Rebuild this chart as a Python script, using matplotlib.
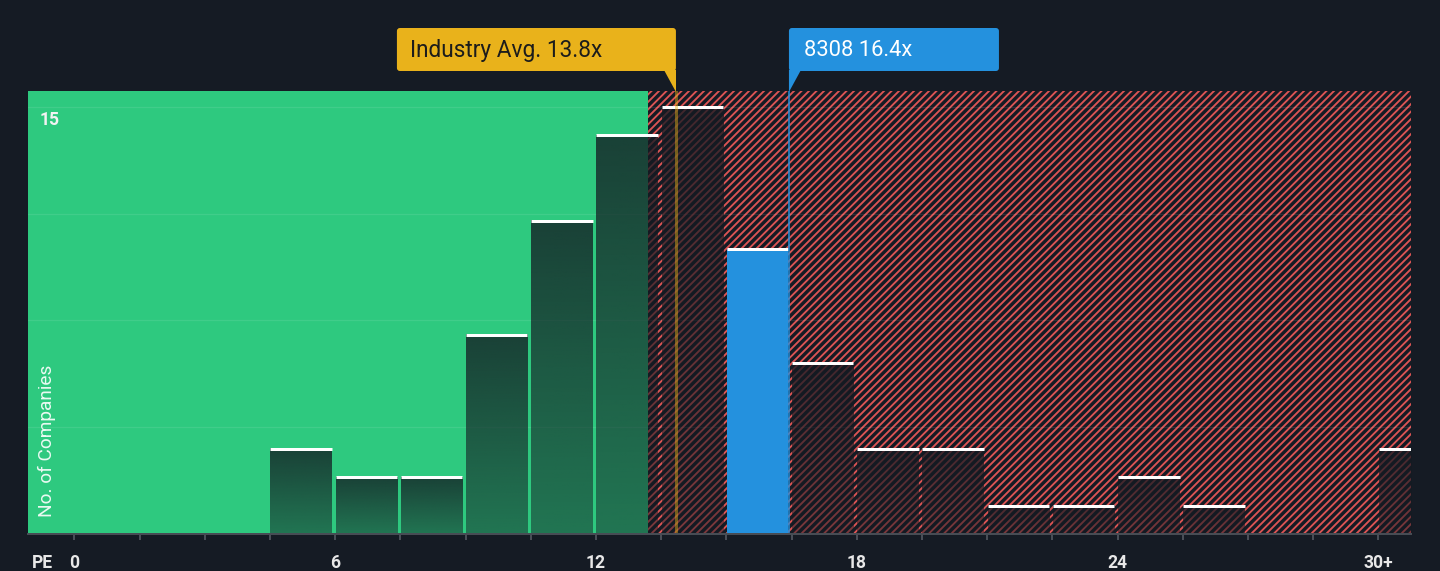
import numpy as np
import matplotlib
matplotlib.use("Agg")
import matplotlib.pyplot as plt
import matplotlib.colors as mcolors
import matplotlib.transforms as mtransforms
from matplotlib.patches import FancyBboxPatch, Polygon

# ---------------- data ----------------
bin_left = [4.5, 6.0, 7.5, 9.0, 10.5, 12.0, 13.5, 15.0, 16.5, 18.0, 19.5,
            21.0, 22.5, 24.0, 25.5, 27.0, 28.5, 30.0]
counts = [3, 2, 2, 7, 11, 14, 15, 10, 6, 3, 3, 1, 1, 2, 1, 0, 0, 3]
bin_width = 1.5
company_bin = 7
industry_avg = 13.84
company_pe = 16.44
company_name = "8308"
fair_limit = 13.2
x_tick_values = [0, 6, 12, 18, 24, 30]
x_tick_labels = ["0", "6", "12", "18", "24", "30+"]
minor_tick_values = list(np.arange(0, 30.1, 1.5))
grid_values = [3.75, 7.5, 11.25, 15]
y_top_label = "15"

# ---------------- style ----------------
W, H, DPI = 1440, 571, 90
BG = "#151b24"
GREEN = "#2ec97f"
RED = "#dc5454"
BLUE = "#2491de"
YELLOW = "#e9b21b"
OVERLAY = "#141a22"
XMIN, XMAX = -1.065, 30.75
YMAX = 15.55

plt.rcParams["font.family"] = ["Roboto", "DejaVu Sans"]
plt.rcParams["hatch.linewidth"] = 1.5

fig = plt.figure(figsize=(W / DPI, H / DPI), dpi=DPI, facecolor=BG)
ax = fig.add_axes([28 / W, (H - 534) / H, (1411 - 28) / W, (534 - 91) / H])
ax.set_facecolor(BG)

# background zones
ax.axvspan(XMIN, fair_limit, facecolor=GREEN, edgecolor="none", linewidth=0, zorder=0)
ax.axvspan(fair_limit, XMAX, facecolor=BG, edgecolor=RED, hatch="////", linewidth=0, zorder=0)

# grid lines
for g in grid_values:
    ax.axhline(g, color="white", alpha=0.09, lw=1.0, zorder=1)

# bars
ov = mcolors.to_rgb(OVERLAY)
grad = np.zeros((256, 1, 4))
grad[..., 0], grad[..., 1], grad[..., 2] = ov
grad[:, 0, 3] = np.linspace(0.78, 0.48, 256)
inset_l, inset_r = 0.01, 0.075
for i, (x0, c) in enumerate(zip(bin_left, counts)):
    if c <= 0:
        continue
    xa, xb = x0 + inset_l, x0 + bin_width - inset_r
    if i == company_bin:
        ax.bar(xa, c, width=xb - xa, align="edge", color=BLUE, linewidth=0, zorder=3)
    else:
        ax.imshow(grad, extent=[xa, xb, 0, c], origin="upper", aspect="auto",
                  interpolation="bilinear", zorder=3)
    ax.hlines(c, xa, xb, color="white", lw=2.4, zorder=4)

# reference lines
ax.axvline(industry_avg, color=YELLOW, alpha=0.45, lw=2.4, zorder=5)
ax.axvline(company_pe, color=BLUE, lw=1.2, zorder=5)

ax.set_xlim(XMIN, XMAX)
ax.set_ylim(0, YMAX)

# axes styling
for s in ["top", "left", "right"]:
    ax.spines[s].set_visible(False)
ax.spines["bottom"].set_color("#474c54")
ax.spines["bottom"].set_linewidth(1.6)
ax.spines["bottom"].set_zorder(6)
ax.set_yticks([])
ax.set_xticks(minor_tick_values, minor=True)
ax.set_xticks(x_tick_values, x_tick_labels)
ax.tick_params(axis="x", which="both", direction="out", length=5, width=1.2,
               color="#5b6068")
ax.tick_params(axis="x", which="major", labelsize=14, labelcolor="#e8e8e8", pad=11.2)
for lab in ax.get_xticklabels():
    lab.set_fontweight("bold")

# pixel transform (x from left, y from top)
pix = mtransforms.Affine2D().scale(1, -1).translate(0, H)

fig.text(32, 563, "PE", transform=pix, ha="left", va="center", fontsize=14,
         fontweight="bold", color="#e8e8e8")
fig.text(40, 120, y_top_label, transform=pix, ha="left", va="center", fontsize=14,
         fontweight="bold", color="#f2f2f2")
fig.text(47, 517, "No. of Companies", transform=pix, ha="center", va="bottom",
         rotation=90, fontsize=15.2, color="white", alpha=0.9)

# annotation boxes
ind_px = ax.transData.transform((industry_avg, 0))[0]
com_px = ax.transData.transform((company_pe, 0))[0]
box_top, box_h, tail_tip = 28, 43, 92

yb = FancyBboxPatch((ind_px - 279, box_top), 279, box_h,
                    boxstyle="round,pad=0,rounding_size=3", transform=pix,
                    facecolor=YELLOW, edgecolor="none")
fig.add_artist(yb)
fig.add_artist(Polygon([(ind_px - 12, box_top + box_h - 1), (ind_px, box_top + box_h - 1),
                        (ind_px, tail_tip)], closed=True, transform=pix,
                       facecolor=YELLOW, edgecolor="none"))
fig.text(ind_px - 266, box_top + box_h / 2 + 1, f"Industry Avg. {industry_avg:.1f}x",
         transform=pix, ha="left", va="center", fontsize=18.1, color="#1c1c1c")

bb = FancyBboxPatch((com_px, box_top), 210, box_h,
                    boxstyle="round,pad=0,rounding_size=3", transform=pix,
                    facecolor=BLUE, edgecolor="none")
fig.add_artist(bb)
fig.add_artist(Polygon([(com_px, box_top + box_h - 1), (com_px + 12, box_top + box_h - 1),
                        (com_px, tail_tip)], closed=True, transform=pix,
                       facecolor=BLUE, edgecolor="none"))
fig.text(com_px + 15, box_top + box_h / 2 + 1, f"{company_name} {company_pe:.1f}x",
         transform=pix, ha="left", va="center", fontsize=17.5, color="white")

fig.savefig("out.png", dpi=DPI, facecolor=BG)
